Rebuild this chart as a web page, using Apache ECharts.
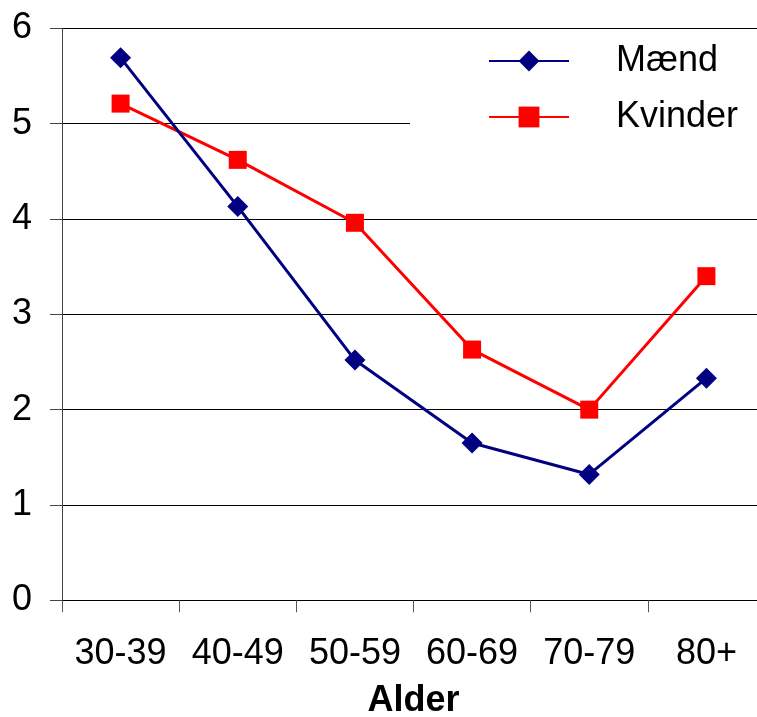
<!DOCTYPE html>
<html>
<head>
<meta charset="utf-8">
<script src="https://cdn.jsdelivr.net/npm/echarts@6/dist/echarts.min.js"></script>
<style>
  html, body { margin: 0; padding: 0; background: #fff; }
  #chart { width: 757px; height: 717px; }
</style>
</head>
<body>
<div id="chart"></div>
<script>
// Age groups on the x axis
const ageGroups = ['30-39', '40-49', '50-59', '60-69', '70-79', '80+'];
// Values per age group
const maendValues = [5.69, 4.13, 2.52, 1.65, 1.32, 2.33];
const kvinderValues = [5.21, 4.62, 3.96, 2.63, 2.00, 3.40];
// Y axis range
const yMin = 0, yMax = 6, yStep = 1;

const FONT = 'Liberation Sans, Arial, sans-serif';

const chart = echarts.init(document.getElementById('chart'), null, { renderer: 'canvas' });

chart.setOption({
  backgroundColor: '#ffffff',
  animation: false,
  grid: {
    left: 62, right: -8, top: 28.3, bottom: 116.7,
    containLabel: false,
    outerBoundsMode: 'none'
  },
  legend: {
    orient: 'vertical',
    left: 410,
    top: 30,
    backgroundColor: '#ffffff',
    padding: [13, 30, 12, 78],
    itemWidth: 80,
    itemHeight: 26,
    itemGap: 20,
    textStyle: { fontFamily: FONT, fontSize: 36, color: '#000', padding: [0, 0, 0, 42] },
    data: ['Mænd', 'Kvinder']
  },
  xAxis: {
    type: 'category',
    data: ageGroups,
    boundaryGap: true,
    name: 'Alder',
    nameLocation: 'middle',
    nameGap: 83,
    nameTextStyle: { fontFamily: FONT, fontSize: 36, fontWeight: 'bold', color: '#000' },
    axisLine: { lineStyle: { color: '#000', width: 1 } },
    axisTick: { show: true, interval: 0, length: 12, alignWithLabel: false, lineStyle: { color: '#555' } },
    axisLabel: { interval: 0, hideOverlap: false, fontFamily: FONT, fontSize: 36, color: '#000', margin: 36 },
    splitLine: { show: false }
  },
  yAxis: {
    type: 'value',
    min: yMin,
    max: yMax,
    interval: yStep,
    axisLine: { show: true, lineStyle: { color: '#444', width: 1 } },
    axisTick: { show: true, length: 12, lineStyle: { color: '#444' } },
    axisLabel: { fontFamily: FONT, fontSize: 36, color: '#000', margin: 30 },
    splitLine: { show: true, lineStyle: { color: '#000', width: 1 } }
  },
  series: [
    {
      name: 'Mænd',
      type: 'line',
      data: maendValues,
      symbol: 'diamond',
      symbolSize: 21,
      color: '#000080',
      lineStyle: { color: '#000080', width: 3 },
      itemStyle: { color: '#000080' },
      z: 3
    },
    {
      name: 'Kvinder',
      type: 'line',
      data: kvinderValues,
      symbol: 'rect',
      symbolSize: 18,
      color: '#ff0000',
      lineStyle: { color: '#ff0000', width: 3 },
      itemStyle: { color: '#ff0000' },
      z: 2
    }
  ]
});
</script>
</body>
</html>
